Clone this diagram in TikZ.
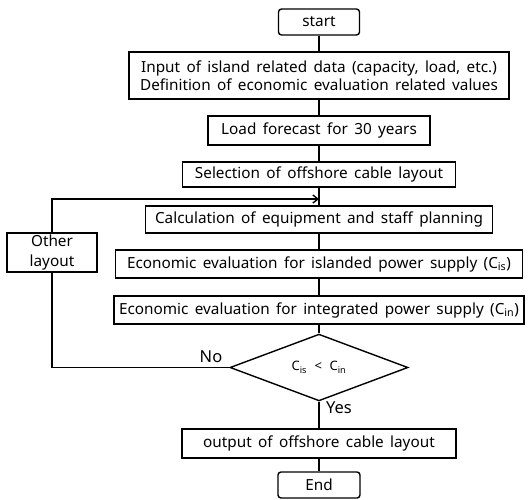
\documentclass[tikz,border=0pt]{standalone}
\usepackage{fontspec}
\setmainfont{Noto Sans}[WordSpace=1.6]
\usetikzlibrary{shapes.geometric,arrows.meta}
\begin{document}
\begin{tikzpicture}[x=1pt,y=-1pt,
  every node/.style={font=\fontsize{15.3}{18.5}\selectfont},
  box/.style={draw,line width=1.4pt,inner sep=0pt,align=center},
  rbox/.style={box,rounded corners=3pt},
  link/.style={line width=1.4pt},
  lbl/.style={inner sep=0pt}]
\useasboundingbox (0,0) rectangle (528,499);
\node[rbox,minimum width=81pt,minimum height=26pt] (start) at (319,22) {start};
\node[box,minimum width=380pt,minimum height=47pt] (input) at (319,75.5) {Input of island related data (capacity, load, etc.)\\Definition of economic evaluation related values};
\node[box,minimum width=222pt,minimum height=29pt] (load) at (319,130.5) {Load forecast for 30 years};
\node[box,minimum width=273pt,minimum height=25pt] (sel) at (319,174.5) {Selection of offshore cable layout};
\coordinate (join) at (319,199);
\node[box,minimum width=347pt,minimum height=27pt] (calc) at (319,219.5) {Calculation of equipment and staff planning};
\node[box,minimum width=90pt,minimum height=39pt,font=\fontsize{15.3}{19.5}\selectfont] (other) at (52,252.5) {Other\\layout};
\node[box,minimum width=407pt,minimum height=28pt] (isl) at (319,264) {Economic evaluation for islanded power supply (C\textsubscript{is})};
\node[box,minimum width=410pt,minimum height=28pt] (integ) at (319,310) {Economic evaluation for integrated power supply (C\textsubscript{in})};
\node[draw,diamond,line width=1.4pt,inner sep=0pt,minimum width=178pt,minimum height=53pt,font=\fontsize{13}{15}\selectfont] (dec) at (319,367.5) {C\textsubscript{is} \,<\, C\textsubscript{in}};
\node[box,minimum width=274pt,minimum height=29pt] (out) at (319,443.5) {output of offshore cable layout};
\node[rbox,minimum width=82pt,minimum height=26pt] (end) at (319,485) {End};
\draw[link] (start) -- (input);
\draw[link] (input) -- (load);
\draw[link] (load) -- (sel);
\draw[link] (sel) -- (calc);
\draw[link] (calc) -- (isl);
\draw[link] (isl) -- (integ);
\draw[link] (integ) -- (dec);
\draw[link] (dec) -- (out);
\draw[link] (out) -- (end);
\draw[link] (dec.west) -| (other.south);
\draw[link,-{Straight Barb[length=5pt,width=8pt]}] (other.north) |- (join);
\node[lbl,font=\fontsize{16.5}{18}\selectfont] (no) at (211,357) {No};
\node[lbl,font=\fontsize{16.5}{18}\selectfont] (yes) at (339,408) {Yes};
\end{tikzpicture}
\end{document}
